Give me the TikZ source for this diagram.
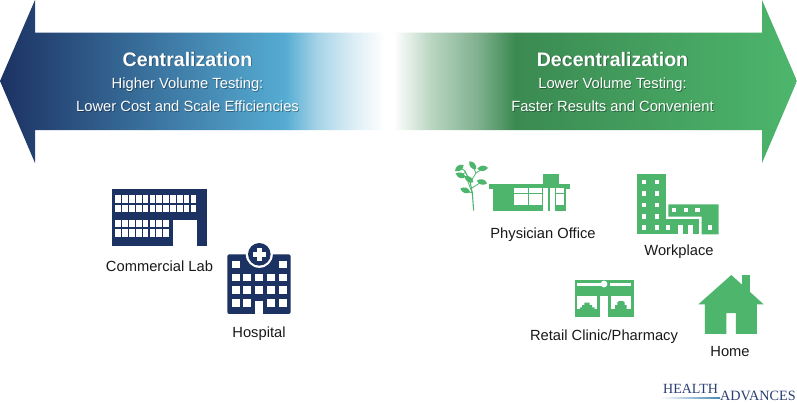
\documentclass[tikz,border=0pt]{standalone}
\usepackage{fontspec}
\setmainfont{Liberation Sans}
\newfontfamily\logofont{Liberation Serif}
\definecolor{navy}{HTML}{1C3263}
\definecolor{grn}{HTML}{4DB66C}
\definecolor{skyb}{HTML}{55ACD3}
\definecolor{pale}{HTML}{A6D3E7}
\definecolor{paler}{HTML}{D8ECF4}
\definecolor{dgreen}{HTML}{3B8A52}
\definecolor{mgreen}{HTML}{7FB08E}
\definecolor{lgreen}{HTML}{BAD6C2}
\definecolor{logoblue}{HTML}{2B3F70}
% stops: 25bp + 50bp * x / 797
\pgfdeclarehorizontalshading{barshade}{100bp}{
 color(0bp)=(navy); color(25bp)=(navy);
 color(42.9bp)=(skyb); color(44.9bp)=(pale); color(47bp)=(paler); color(49.1bp)=(white); color(49.7bp)=(white);
 color(52bp)=(lgreen); color(55bp)=(mgreen); color(57.3bp)=(dgreen);
 color(75bp)=(grn); color(100bp)=(grn)}
\pgfdeclarehorizontalshading{logoline}{100bp}{
 color(0bp)=(white); color(25bp)=(white); color(75bp)=(skyb!70!navy); color(100bp)=(skyb!70!navy)}
\tikzset{
 big/.style={font=\fontsize{19.6}{22}\selectfont\bfseries,text=white,inner sep=0pt},
 sub/.style={font=\fontsize{14.75}{17}\selectfont,text=white,inner sep=0pt},
 bigsh/.style={big,text=black,text opacity=.35},
 subsh/.style={sub,text=black,text opacity=.35},
 lab/.style={font=\fontsize{14.7}{17}\selectfont,text=black!90,inner sep=0pt},
 logoa/.style={font=\logofont\fontsize{14}{15}\selectfont,text=logoblue,inner sep=0pt},
 logob/.style={font=\logofont\fontsize{14.2}{15}\selectfont,text=logoblue,inner sep=0pt},
}
\newcommand{\leafat}[3]{\fill[shift={(#1,#2)},rotate=#3] (-16,0) .. controls (-6,-11) and (6,-11) .. (16,0) .. controls (6,11) and (-6,11) .. (-16,0) -- cycle;}
\begin{document}
\begin{tikzpicture}[x=1pt,y=-1pt]
\useasboundingbox (0,0) rectangle (797,402);
\fill[white] (0,0) rectangle (797,402);
% double arrow
\shade[shading=barshade] (0,81) -- (35,0) -- (35,32.5) -- (762,32.5) -- (762,0) -- (797,81) -- (762,163) -- (762,130) -- (35,130) -- (35,163) -- cycle;
% texts
\node[bigsh] (cs1) at (188.4,59.9) {Centralization};
\node[subsh] (cs2) at (188.4,85.6) {Higher Volume Testing:};
\node[subsh] (cs3) at (188.4,106.9) {Lower Cost and Scale Efficiencies};
\node[bigsh] (ds1) at (613.4,59.9) {Decentralization};
\node[subsh] (ds2) at (613.4,85.6) {Lower Volume Testing:};
\node[subsh] (ds3) at (613.4,106.9) {Faster Results and Convenient};
\node[big] (c1) at (187.5,59) {Centralization};
\node[sub] (c2) at (187.5,84.7) {Higher Volume Testing:};
\node[sub] (c3) at (187.5,106) {Lower Cost and Scale Efficiencies};
\node[big] (d1) at (612.5,59) {Decentralization};
\node[sub] (d2) at (612.5,84.7) {Lower Volume Testing:};
\node[sub] (d3) at (612.5,106) {Faster Results and Convenient};
% commercial lab
\begin{scope}[shift={(90,170)},x=.3333pt,y=-.3333pt]
\fill[navy] (65,57) rectangle (350,227);
\fill[white] (250,149) rectangle (320,227);
\foreach \i in {0,...,11} {
 \fill[white] (76+20.55*\i,76) rectangle +(17,22);
 \fill[white] (76+20.55*\i,104) rectangle +(17,23);
}
\foreach \i in {0,...,7} {
 \fill[white] (76+20.55*\i,149) rectangle +(17,22);
 \fill[white] (76+20.55*\i,177) rectangle +(17,23);
}
% hospital
\fill[navy,rounded corners=2pt] (412,253) rectangle (602,432);
\fill[white] (508,253) circle[radius=13.5pt];
\fill[navy] (508,253) circle[radius=11.3pt];
\fill[white] (501,234) rectangle (515,272);
\fill[white] (489,246) rectangle (527,260);
\foreach \x in {425,460,496,531,566} {
 \fill[white] (\x,311) rectangle +(24,23);
 \fill[white] (\x,349) rectangle +(24,23);
}
\foreach \x in {425,460,531,566} \fill[white] (\x,388) rectangle +(24,24);
\foreach \x in {425,566} \fill[white] (\x,272) rectangle +(24,23);
\fill[white] (496,392) rectangle (520,432);
\end{scope}
% tree and physician office
\begin{scope}[shift={(452,158)},x=.3333pt,y=-.3333pt,grn]
\draw[line width=1.1pt] (65,158) -- (61,105) -- (54,70) -- (38,38);
\draw[line width=.8pt] (61,105) -- (48,72);
\draw[line width=.8pt] (60,90) -- (88,72);
\draw[line width=.8pt] (55,72) -- (72,45) -- (92,32);
\draw[line width=.8pt] (72,45) -- (62,24);
\draw[line width=.8pt] (38,38) -- (22,28);
\draw[line width=.8pt] (40,44) -- (22,52);
\draw[line width=.8pt] (60,105) -- (42,98);
\leafat{22}{30}{35}
\leafat{26}{52}{-20}
\leafat{62}{22}{-50}
\leafat{92}{31}{5}
\leafat{51}{64}{-35}
\leafat{90}{72}{-15}
\leafat{40}{97}{-20}
\end{scope}
\begin{scope}[shift={(440,150)},x=.3333pt,y=-.3333pt]
\fill[grn] (146,101) rectangle (390,116);
\fill[grn] (158,116) rectangle (378,183);
\fill[grn] (309,73) rectangle (358,101);
\end{scope}
\begin{scope}[shift={(505,170)},x=.3333pt,y=-.3333pt]
\foreach \a/\b in {28/68,72/110,154/178} {
 \fill[white] (\a,55) rectangle (\b,68);
 \fill[white] (\a,72) rectangle (\b,105);
}
\fill[white] (114,55) rectangle (130,122);
\fill[white] (135,55) rectangle (150,122);
\end{scope}
% workplace
\begin{scope}[shift={(620,160)},x=.3333pt,y=-.3333pt]
\fill[grn] (51,43) rectangle (137,223);
\fill[grn] (137,178) rectangle (238,223);
\fill[grn] (145,133) -- (296,133) -- (296,223) -- (245,223) -- (245,170) -- (145,170) -- cycle;
\foreach \y in {59,94,128,163,196} {
 \fill[white] (65,\y) rectangle +(14,14);
 \fill[white] (104,\y) rectangle +(14,14);
}
\fill[white] (137,196) rectangle +(14,14);
\fill[white] (173,196) rectangle (190,223);
\fill[white] (203,196) rectangle (219,223);
\foreach \x in {155,191,226} \fill[white] (\x,143) rectangle +(14,14);
\fill[white] (263,196) rectangle +(14,14);
\end{scope}
% retail and home
\begin{scope}[shift={(560,265)},x=.3333pt,y=-.3333pt]
\fill[grn] (45,45) rectangle (221,156);
\fill[white] (51,53) rectangle (122,64);
\fill[white] (149,53) rectangle (214,64);
\fill[white] (132,57) circle[radius=3.4pt];
\fill[white] (51,92) rectangle (112,133);
\fill[white] (152,92) rectangle (214,133);
\fill[white] (120,92) rectangle (144,156);
\fill[grn] (60,133) -- (60,127) -- (66,127) -- (66,120) -- (73,120) -- (73,113) -- (89,113) -- (89,120) -- (96,120) -- (96,127) -- (104,127) -- (104,133) -- cycle;
\fill[grn] (165,133) -- (165,120) -- (172,120) -- (172,112) -- (178,108) -- (188,108) -- (194,112) -- (194,120) -- (200,120) -- (200,133) -- cycle;
\fill[grn] (546,30) rectangle (569,80);
\fill[grn] (514,30) -- (611,118) -- (591,118) -- (591,207) -- (528,207) -- (528,144) -- (499,144) -- (499,207) -- (435,207) -- (435,118) -- (415,118) -- cycle;
\end{scope}
% labels
\node[lab] (lab1) at (159.5,266.5) {Commercial Lab};
\node[lab] (lab2) at (259,333.5) {Hospital};
\node[lab] (lab3) at (543,235) {Physician Office};
\node[lab] (lab4) at (679,251.5) {Workplace};
\node[lab] (lab5) at (604,336.5) {Retail Clinic/Pharmacy};
\node[lab] (lab6) at (730,352) {Home};
% logo
\shade[shading=logoline] (660,397.3) rectangle (720,398);
\node[logoa,anchor=base west] (logo1) at (663,393.5) {HEALTH};
\node[logob,anchor=base west] (logo2) at (720,400) {ADVANCES};
\end{tikzpicture}
\end{document}
